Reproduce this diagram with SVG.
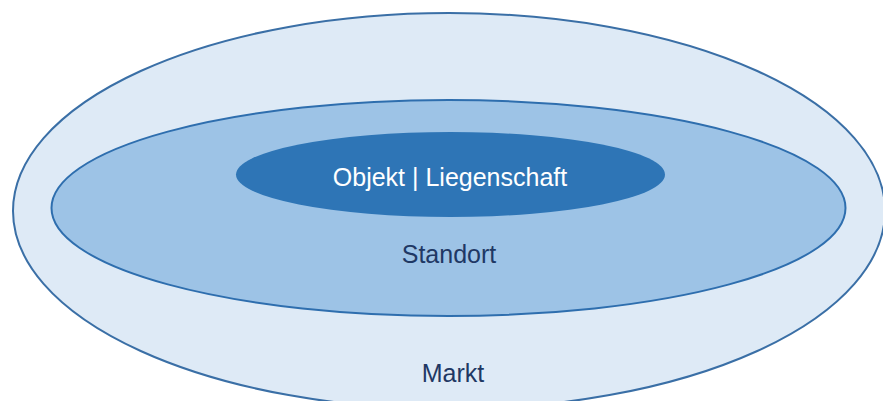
<svg xmlns="http://www.w3.org/2000/svg" width="883" height="401" viewBox="0 0 883 401">
<style>
text{font-family:"Liberation Sans",Arial,sans-serif;font-size:25px;text-anchor:middle}
.dark{fill:#1F3864}
.light{fill:#FFFFFF}
</style>
<rect width="883" height="401" fill="#FFFFFF"/>
<g id="markt">
<ellipse cx="449" cy="211" rx="436" ry="198" fill="#DEEAF6" stroke="#3A6FA6" stroke-width="2"/>
<text class="dark" x="453" y="382">Markt</text>
</g>
<g id="standort">
<ellipse cx="448.5" cy="208" rx="397" ry="108" fill="#9DC3E6" stroke="#2E6EAE" stroke-width="2"/>
<text class="dark" x="449" y="263">Standort</text>
</g>
<g id="objekt">
<ellipse cx="450.5" cy="174.5" rx="214.5" ry="42.5" fill="#2E75B6"/>
<text class="light" x="450" y="186">Objekt | Liegenschaft</text>
</g>
<g id="connectors"/>
</svg>
